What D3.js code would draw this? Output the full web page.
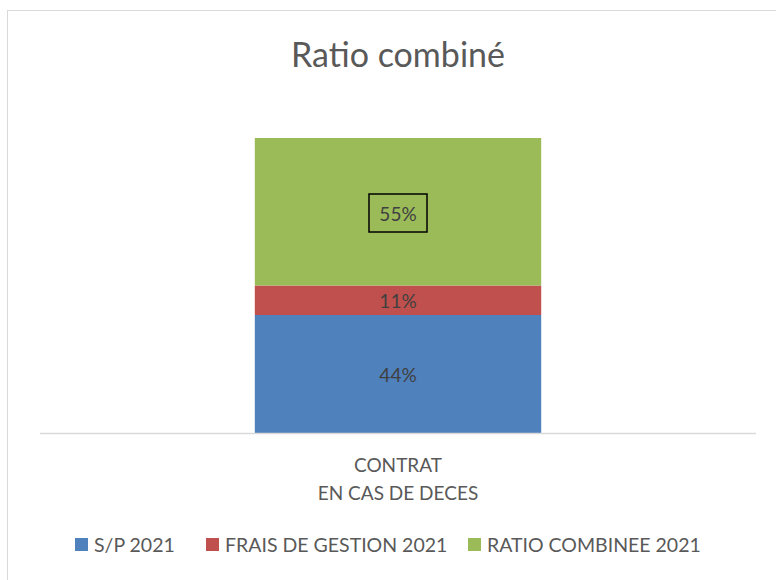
<!DOCTYPE html>
<html>
<head>
<meta charset="utf-8">
<script src="https://cdn.jsdelivr.net/npm/d3@7"></script>
<style>
  body { margin: 0; background: #fff; }
  svg { display: block; font-family: Lato, "Open Sans", sans-serif; }
</style>
</head>
<body>
<div id="chart"></div>
<script>
// Ratio combiné - stacked single column

const categories = [['CONTRAT', 'EN CAS DE DECES']];
const seriesNames = ['S/P 2021', 'FRAIS DE GESTION 2021', 'RATIO COMBINEE 2021'];
const seriesValues = [44, 11, 55];
const seriesColors = ['#4f81bd', '#c0504d', '#9bbb59'];

const width = 776, height = 580;

const svg = d3.select('#chart').append('svg')
    .attr('width', width)
    .attr('height', height);

// chart frame
svg.append('rect')
    .attr('x', 7.5).attr('y', 10.5)
    .attr('width', 800).attr('height', 600)
    .attr('fill', '#fff')
    .attr('stroke', '#d9d9d9');

svg.append('text')
    .attr('x', 398).attr('y', 67)
    .attr('text-anchor', 'middle')
    .attr('font-size', '34px')
    .attr('fill', '#595959')
    .text('Ratio combiné');

const plot = { left: 40, right: 756, top: 138, bottom: 433 };

const x = d3.scaleBand()
    .domain(categories.map(c => c.join(' ')))
    .range([plot.left, plot.right])
    .paddingInner(0)
    .paddingOuter(0.75);

const total = d3.sum(seriesValues);
const y = d3.scaleLinear()
    .domain([0, total])
    .range([plot.bottom, plot.top]);

// stack the single row
const row = { cat: categories[0].join(' ') };
seriesNames.forEach((s, i) => row[s] = seriesValues[i]);
const stacked = d3.stack().keys(seriesNames)([row]);

stacked.forEach((layer, i) => {
    const d = layer[0];
    svg.append('rect')
        .attr('x', x(d.data.cat))
        .attr('y', y(d[1]))
        .attr('width', x.bandwidth())
        .attr('height', y(d[0]) - y(d[1]))
        .attr('fill', seriesColors[i]);
});

// axis line
svg.append('line')
    .attr('x1', plot.left).attr('x2', plot.right)
    .attr('y1', plot.bottom + 0.5).attr('y2', plot.bottom + 0.5)
    .attr('stroke', '#d9d9d9')
    .attr('stroke-width', 1.5);

// data labels
stacked.forEach((layer, i) => {
    const d = layer[0];
    const cx = x(d.data.cat) + x.bandwidth() / 2;
    const cy = i === 2 ? y(d[1]) + 75 : (y(d[0]) + y(d[1])) / 2;
    svg.append('text')
        .attr('x', cx).attr('y', cy)
        .attr('text-anchor', 'middle')
        .attr('dominant-baseline', 'central')
        .attr('font-size', '19px')
        .attr('fill', '#404040')
        .text(seriesValues[i] + '%');
    if (i === 2) {
        svg.append('rect')
            .attr('x', cx - 29).attr('y', cy - 19)
            .attr('width', 58).attr('height', 38)
            .attr('fill', 'none')
            .attr('stroke', '#000')
            .attr('stroke-width', 1.5);
    }
});

// category label
categories[0].forEach((line, i) => {
    svg.append('text')
        .attr('x', x(row.cat) + x.bandwidth() / 2)
        .attr('y', 472 + i * 28)
        .attr('text-anchor', 'middle')
        .attr('font-size', '19px')
        .attr('fill', '#595959')
        .text(line);
});

// legend
const legendX = [75, 206, 468];
seriesNames.forEach((s, i) => {
    const g = svg.append('g').attr('transform', `translate(${legendX[i]},538)`);
    g.append('rect').attr('width', 13).attr('height', 13).attr('fill', seriesColors[i]);
    g.append('text')
        .attr('x', 19).attr('y', 13.5)
        .attr('font-size', '19.5px')
        .attr('fill', '#595959')
        .text(s);
});
</script>
</body>
</html>
